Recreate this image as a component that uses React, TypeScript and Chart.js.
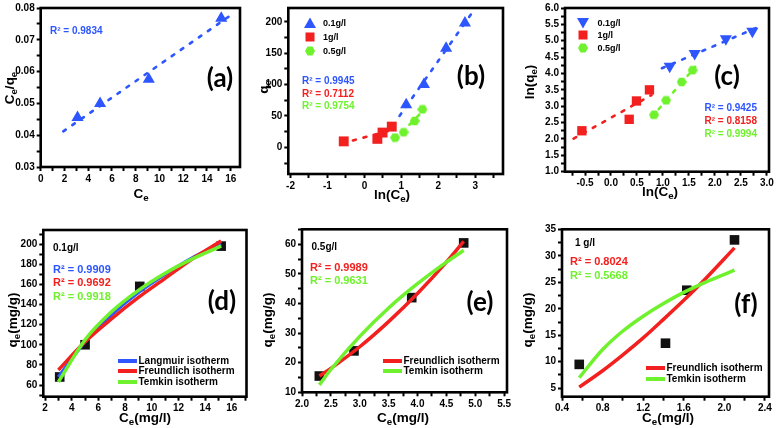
import React, { useEffect, useRef } from 'react';
import { Chart, registerables } from 'chart.js';
Chart.register(...registerables);

const BLUE = '#2d56ff';
const RED = '#f2201e';
const GREEN = '#6ff22d';
const FONT = '"Liberation Sans", Arial, sans-serif';
const BIGFONT = 'Lato, "Liberation Sans", sans-serif';

// ---------- (a) linear Langmuir ----------
const aCe = [3.1, 5.0, 9.1, 15.2];
const aCeQe = [0.0456, 0.05, 0.0576, 0.0768];
const aFitX = [1.9, 16.3];
const aFitY = [0.0412, 0.0785];

// ---------- (b) Temkin (qe vs lnCe) ----------
const bLnCe01 = [1.13, 1.61, 2.21, 2.72];
const bQe01 = [68, 100, 158, 198];
const bLnCe1 = [-0.56, 0.35, 0.49, 0.74];
const bQe1 = [9.5, 13.5, 23.5, 33];
const bLnCe05 = [0.83, 1.06, 1.36, 1.57];
const bQe05 = [15.5, 24, 42, 60.5];
const bFit01X = [0.95, 2.92];
const bFit01Y = [50, 215];
const bFit1X = [-0.6, 0.78];
const bFit1Y = [6.5, 28];
const bFit05X = [0.8, 1.6];
const bFit05Y = [11, 59];

// ---------- (c) Freundlich (lnqe vs lnCe) ----------
const cLnQe01 = [4.22, 4.61, 5.06, 5.29];
const cLnQe1 = [2.25, 2.6, 3.16, 3.5];
const cLnQe05 = [2.74, 3.18, 3.74, 4.1];
const cFit01X = [0.98, 2.88];
const cFit01Y = [4.16, 5.45];
const cFit1X = [-0.72, 0.78];
const cFit1Y = [2.01, 3.34];
const cFit05X = [0.78, 1.62];
const cFit05Y = [2.66, 4.2];

// ---------- (d) 0.1 g/l ----------
const dCe = [3.1, 5.0, 9.1, 15.2];
const dQe = [68, 100, 158, 198];
const dCurveX = [3, 5, 7, 9, 11, 13, 15.2];
const dLangmuir = [68, 103, 130, 152, 170, 186, 200];
const dFreundlich = [75, 103, 126, 147, 166, 185, 203];
const dTemkin = [63, 105, 133, 154, 171, 185, 198];

// ---------- (e) 0.5 g/l ----------
const eCe = [2.3, 2.9, 3.9, 4.8];
const eQe = [15.5, 24, 42, 60.5];
const eCurveX = [2.3, 2.5, 3.0, 3.5, 4.0, 4.5, 4.8];
const eFreundlich = [15.5, 18.1, 25.4, 33.9, 43.4, 54, 61];
const eTemkin = [12.5, 17.7, 28.9, 38.5, 46.7, 54, 58];

// ---------- (f) 1 g/l ----------
const fCe = [0.57, 1.42, 1.63, 2.1];
const fQe = [9.5, 13.5, 23.5, 33];
const fCurveX = [0.57, 0.8, 1.0, 1.2, 1.4, 1.6, 1.8, 2.1];
const fFreundlich = [5.2, 8.3, 11.3, 14.5, 18, 21.6, 25.4, 31.5];
const fTemkin = [7, 12.3, 15.8, 18.6, 21, 23.1, 24.9, 27.3];

const seq = (start: number, step: number, n: number) =>
  Array.from({ length: n }, (_, i) => +(start + i * step).toFixed(6));

// tick lists (major labelled, minor unlabelled)
const aXMajor = seq(0, 2, 9), aXMinor = seq(1, 2, 8);
const aYMajor = seq(0.03, 0.01, 6), aYMinor = seq(0.035, 0.01, 5);
const bXMajor = seq(-2, 1, 6), bXMinor = seq(-1.5, 1, 6);
const bYMajor = seq(0, 50, 5), bYMinor = seq(-25, 50, 5);
const cXMajor = seq(-0.5, 0.5, 8), cXMinor = seq(-0.75, 0.5, 8);
const cYMajor = seq(1, 0.5, 11), cYMinor = seq(1.25, 0.5, 10);
const dXMajor = seq(2, 2, 8), dXMinor = seq(3, 2, 8);
const dYMajor = seq(60, 20, 8), dYMinor = seq(50, 20, 9);
const eXMajor = seq(2, 0.5, 8), eXMinor = seq(2.25, 0.5, 7);
const eYMajor = seq(10, 10, 6), eYMinor = seq(15, 10, 6);
const fXMajor = seq(0.4, 0.4, 6), fXMinor = seq(0.6, 0.4, 5);
const fYMajor = seq(5, 5, 7), fYMinor = seq(7.5, 5, 6);

const pts = (xs: number[], ys: number[]) => xs.map((x, i) => ({ x, y: ys[i] }));

type Axis = { min: number; max: number; major: number[]; minor: number[]; dec: number };
type Cfg = {
  canvas: [number, number, number, number];
  plot: [number, number, number, number];
  x: Axis;
  y: Axis;
  datasets: (hex: HTMLCanvasElement) => any[];
};

function makeHex(size: number, color: string) {
  const c = document.createElement('canvas');
  c.width = size;
  c.height = size;
  const ctx = c.getContext('2d')!;
  const r = size / 2;
  ctx.fillStyle = color;
  ctx.beginPath();
  for (let i = 0; i < 6; i++) {
    const a = (Math.PI / 3) * i;
    const px = r + r * Math.cos(a);
    const py = r + r * Math.sin(a);
    if (i === 0) ctx.moveTo(px, py);
    else ctx.lineTo(px, py);
  }
  ctx.closePath();
  ctx.fill();
  return c;
}

const scatterSet = (data: any[], color: string, style: any, radius: number, rot = 0) => ({
  data,
  showLine: false,
  pointStyle: style,
  pointRadius: radius,
  pointRotation: rot,
  pointBackgroundColor: color,
  pointBorderColor: color,
  pointBorderWidth: 0,
  clip: false,
});
const dotted = (data: any[], color: string) => ({
  data,
  showLine: true,
  pointRadius: 0,
  borderColor: color,
  borderWidth: 2.6,
  borderDash: [3, 8],
  borderCapStyle: 'round',
  fill: false,
});
const curve = (data: any[], color: string) => ({
  data,
  showLine: true,
  pointRadius: 0,
  borderColor: color,
  borderWidth: 3.5,
  cubicInterpolationMode: 'monotone',
  fill: false,
  clip: false,
});

const panels: Cfg[] = [
  {
    canvas: [0, 0, 258, 192],
    plot: [40.7, 6, 240, 167],
    x: { min: 0, max: 16.78, major: aXMajor, minor: aXMinor, dec: 0 },
    y: { min: 0.03, max: 0.08, major: aYMajor, minor: aYMinor, dec: 2 },
    datasets: () => [
      dotted(pts(aFitX, aFitY), BLUE),
      scatterSet(pts(aCe, aCeQe), BLUE, 'triangle', 7),
    ],
  },
  {
    canvas: [258, 0, 252, 192],
    plot: [288.3, 6, 505, 174],
    x: { min: -2.06, max: 3.75, major: bXMajor, minor: bXMinor, dec: 0 },
    y: { min: -42.5, max: 222, major: bYMajor, minor: bYMinor, dec: 0 },
    datasets: (hex) => [
      dotted(pts(bFit01X, bFit01Y), BLUE),
      dotted(pts(bFit1X, bFit1Y), RED),
      dotted(pts(bFit05X, bFit05Y), GREEN),
      scatterSet(pts(bLnCe01, bQe01), BLUE, 'triangle', 7),
      scatterSet(pts(bLnCe1, bQe1), RED, 'rect', 7),
      scatterSet(pts(bLnCe05, bQe05), GREEN, hex, 5),
    ],
  },
  {
    canvas: [512, 0, 264, 192],
    plot: [565, 5, 769, 171.7],
    x: { min: -0.885, max: 3.04, major: cXMajor, minor: cXMinor, dec: 1 },
    y: { min: 1, max: 6, major: cYMajor, minor: cYMinor, dec: 1 },
    datasets: (hex) => [
      dotted(pts(cFit01X, cFit01Y), BLUE),
      dotted(pts(cFit1X, cFit1Y), RED),
      dotted(pts(cFit05X, cFit05Y), GREEN),
      scatterSet(pts(bLnCe01, cLnQe01), BLUE, 'triangle', 7, 180),
      scatterSet(pts(bLnCe1, cLnQe1), RED, 'rect', 6.6),
      scatterSet(pts(bLnCe05, cLnQe05), GREEN, hex, 5),
    ],
  },
  {
    canvas: [0, 214, 258, 200],
    plot: [43.3, 230, 246.5, 396.7],
    x: { min: 1.87, max: 17.1, major: dXMajor, minor: dXMinor, dec: 0 },
    y: { min: 48.4, max: 214, major: dYMajor, minor: dYMinor, dec: 0 },
    datasets: () => [
      curve(pts(dCurveX, dTemkin), GREEN),
      curve(pts(dCurveX, dFreundlich), RED),
      curve(pts(dCurveX, dLangmuir), BLUE),
      scatterSet(pts(dCe, dQe), '#111', 'rect', 6.8),
    ],
  },
  {
    canvas: [258, 214, 258, 200],
    plot: [302, 229.3, 507, 392.3],
    x: { min: 2.0, max: 5.55, major: eXMajor, minor: eXMinor, dec: 1 },
    y: { min: 10, max: 65.1, major: eYMajor, minor: eYMinor, dec: 0 },
    datasets: () => [
      curve(pts(eCurveX, eTemkin), GREEN),
      curve(pts(eCurveX, eFreundlich), RED),
      scatterSet(pts(eCe, eQe), '#111', 'rect', 6.8),
    ],
  },
  {
    canvas: [516, 214, 260, 200],
    plot: [562, 229.3, 769, 396.7],
    x: { min: 0.4, max: 2.44, major: fXMajor, minor: fXMinor, dec: 1 },
    y: { min: 3.4, max: 35, major: fYMajor, minor: fYMinor, dec: 0 },
    datasets: () => [
      curve(pts(fCurveX, fTemkin), GREEN),
      curve(pts(fCurveX, fFreundlich), RED),
      scatterSet(pts(fCe, fQe), '#111', 'rect', 6.8),
    ],
  },
];

const framePlugin = {
  id: 'frame',
  afterDraw(chart: any) {
    const { ctx, chartArea } = chart;
    const { left, top, right, bottom } = chartArea;
    ctx.save();
    ctx.strokeStyle = '#000';
    ctx.lineWidth = 2.6;
    ctx.strokeRect(left, top, right - left, bottom - top);
    ctx.restore();
  },
};

function axisOpts(a: Axis, fit: (s: any) => void) {
  const all = [...a.major, ...a.minor].sort((p, q) => p - q);
  const isMajor = (v: number) => a.major.some((m) => Math.abs(m - v) < 1e-9);
  return {
    type: 'linear',
    min: a.min,
    max: a.max,
    afterBuildTicks: (s: any) => {
      s.ticks = all.filter((v) => v >= a.min && v <= a.max).map((v) => ({ value: v }));
    },
    afterFit: fit,
    ticks: {
      autoSkip: false,
      maxRotation: 0,
      minRotation: 0,
      padding: 2,
      color: '#000',
      font: { size: 10, weight: 'bold', family: FONT },
      callback: (v: number) => (isMajor(v) ? Number(v).toFixed(a.dec) : ''),
    },
    grid: {
      display: true,
      drawOnChartArea: false,
      drawTicks: true,
      tickLength: 4,
      tickWidth: 2,
      tickColor: '#000',
    },
    border: { display: false },
  };
}

function Panel({ cfg }: { cfg: Cfg }) {
  const ref = useRef<HTMLCanvasElement>(null);
  useEffect(() => {
    const [cl, ct, cw, ch] = cfg.canvas;
    const [pl, pt, pr, pb] = cfg.plot;
    const hex = makeHex(10, GREEN);
    const chart = new Chart(ref.current!, {
      type: 'scatter',
      data: { datasets: cfg.datasets(hex) },
      options: {
        animation: false,
        responsive: false,
        maintainAspectRatio: false,
        layout: { padding: { top: pt - ct, right: cl + cw - pr, left: 0, bottom: 0 } },
        plugins: { legend: { display: false }, tooltip: { enabled: false } },
        scales: {
          x: axisOpts(cfg.x, (s: any) => {
            s.height = ct + ch - pb;
          }),
          y: axisOpts(cfg.y, (s: any) => {
            s.width = pl - cl;
          }),
        },
      } as any,
      plugins: [framePlugin],
    });
    return () => chart.destroy();
  }, [cfg]);
  const [cl, ct, cw, ch] = cfg.canvas;
  return (
    <canvas
      ref={ref}
      width={cw}
      height={ch}
      style={{ position: 'absolute', left: cl, top: ct, width: cw, height: ch }}
    />
  );
}

const Sub = ({ children }: { children: any }) => (
  <sub style={{ fontSize: '0.72em', verticalAlign: '-0.3em', lineHeight: 0 }}>{children}</sub>
);

function Txt({
  x, y, children, size = 10, color = '#000', align = 'left', family = FONT, rotate = false,
}: any) {
  const tx = align === 'left' ? '0' : align === 'center' ? '-50%' : '-100%';
  return (
    <div
      style={{
        position: 'absolute',
        left: x,
        top: y,
        transform: rotate ? 'translate(-50%, -50%) rotate(-90deg)' : `translate(${tx}, -50%)`,
        fontSize: size,
        fontWeight: 700,
        color,
        fontFamily: family,
        whiteSpace: 'nowrap',
        lineHeight: 1,
      }}
    >
      {children}
    </div>
  );
}

const Marker = ({ x, y, kind, color }: any) => {
  let shape: any = null;
  if (kind === 'tri') shape = <polygon points="6,0.5 12,11 0,11" fill={color} />;
  if (kind === 'tridown') shape = <polygon points="0,1 12,1 6,11.5" fill={color} />;
  if (kind === 'sq') shape = <rect x="1.5" y="1.5" width="9" height="9" fill={color} />;
  if (kind === 'hex')
    shape = <polygon points="1,6 3.5,1.6 8.5,1.6 11,6 8.5,10.4 3.5,10.4" fill={color} />;
  return (
    <svg width={12} height={12} style={{ position: 'absolute', left: x - 6, top: y - 6 }}>
      {shape}
    </svg>
  );
};

const LegLine = ({ x1, x2, y, color }: any) => (
  <div style={{ position: 'absolute', left: x1, top: y - 2, width: x2 - x1, height: 4, background: color }} />
);

export default function App() {
  return (
    <div
      style={{
        position: 'absolute',
        left: 0,
        top: 0,
        width: 776,
        height: 428,
        background: '#fff',
        overflow: 'hidden',
        fontFamily: FONT,
      }}
    >
      {panels.map((p, i) => (
        <Panel key={i} cfg={p} />
      ))}

      {/* ---- (a) ---- */}
      <Txt x={50} y={31} color={BLUE}>R² = 0.9834</Txt>
      <Txt x={220} y={77} size={26} align="center" family={BIGFONT}>(a)</Txt>
      <Txt x={141} y={194} size={13.5} align="center">C<Sub>e</Sub></Txt>
      <Txt x={10} y={88} size={13.5} rotate>C<Sub>e</Sub>/q<Sub>e</Sub></Txt>

      {/* ---- (b) ---- */}
      <Marker x={310} y={23} kind="tri" color={BLUE} />
      <Marker x={310} y={37} kind="sq" color={RED} />
      <Marker x={310} y={51} kind="hex" color={GREEN} />
      <Txt x={323} y={23} size={9}>0.1g/l</Txt>
      <Txt x={323} y={37} size={9}>1g/l</Txt>
      <Txt x={323} y={51} size={9}>0.5g/l</Txt>
      <Txt x={302} y={81} color={BLUE}>R² = 0.9945</Txt>
      <Txt x={302} y={93.5} color={RED}>R² = 0.7112</Txt>
      <Txt x={302} y={106} color={GREEN}>R² = 0.9754</Txt>
      <Txt x={471} y={75} size={26} align="center" family={BIGFONT}>(b)</Txt>
      <Txt x={392} y={195} size={13.5} align="center">ln(C<Sub>e</Sub>)</Txt>
      <Txt x={264} y={87} size={13.5} rotate>q<Sub>e</Sub></Txt>

      {/* ---- (c) ---- */}
      <Marker x={583} y={23} kind="tridown" color={BLUE} />
      <Marker x={583} y={35} kind="sq" color={RED} />
      <Marker x={583} y={47.5} kind="hex" color={GREEN} />
      <Txt x={597.5} y={23} size={9}>0.1g/l</Txt>
      <Txt x={597.5} y={35} size={9}>1g/l</Txt>
      <Txt x={597.5} y={47.5} size={9}>0.5g/l</Txt>
      <Txt x={757} y={107.5} color={BLUE} align="right">R² = 0.9425</Txt>
      <Txt x={757} y={120.5} color={RED} align="right">R² = 0.8158</Txt>
      <Txt x={757} y={133.5} color={GREEN} align="right">R² = 0.9994</Txt>
      <Txt x={727} y={75} size={26} align="center" family={BIGFONT}>(c)</Txt>
      <Txt x={660} y={192} size={13.5} align="center">ln(C<Sub>e</Sub>)</Txt>
      <Txt x={530} y={82} size={13.5} rotate>ln(q<Sub>e</Sub>)</Txt>

      {/* ---- (d) ---- */}
      <Txt x={53} y={247.5}>0.1g/l</Txt>
      <Txt x={53} y={268.5} size={11} color={BLUE}>R² = 0.9909</Txt>
      <Txt x={53} y={282} size={11} color={RED}>R² = 0.9692</Txt>
      <Txt x={53} y={296} size={11} color={GREEN}>R² = 0.9918</Txt>
      <Txt x={222} y={300} size={26} align="center" family={BIGFONT}>(d)</Txt>
      <LegLine x1={118} x2={137} y={360.7} color={BLUE} />
      <LegLine x1={118} x2={137} y={371} color={RED} />
      <LegLine x1={118} x2={137} y={381.7} color={GREEN} />
      <Txt x={138.5} y={360.7}>Langmuir isotherm</Txt>
      <Txt x={138.5} y={371}>Freundlich isotherm</Txt>
      <Txt x={138.5} y={381.7}>Temkin isotherm</Txt>
      <Txt x={145} y={418} size={13.5} align="center">C<Sub>e</Sub>(mg/l)</Txt>
      <Txt x={12.5} y={320} size={13.5} rotate>q<Sub>e</Sub>(mg/g)</Txt>

      {/* ---- (e) ---- */}
      <Txt x={311.5} y={246.7}>0.5g/l</Txt>
      <Txt x={310} y={266.7} size={11} color={RED}>R² = 0.9989</Txt>
      <Txt x={310} y={280} size={11} color={GREEN}>R² = 0.9631</Txt>
      <Txt x={480} y={301} size={26} align="center" family={BIGFONT}>(e)</Txt>
      <LegLine x1={383} x2={402} y={360.7} color={RED} />
      <LegLine x1={383} x2={402} y={370.7} color={GREEN} />
      <Txt x={403.5} y={360.7}>Freundlich isotherm</Txt>
      <Txt x={403.5} y={370.7}>Temkin isotherm</Txt>
      <Txt x={403} y={418} size={13.5} align="center">C<Sub>e</Sub>(mg/l)</Txt>
      <Txt x={268} y={320} size={13.5} rotate>q<Sub>e</Sub>(mg/g)</Txt>

      {/* ---- (f) ---- */}
      <Txt x={575} y={243.3}>1 g/l</Txt>
      <Txt x={570} y={261} size={11} color={RED}>R² = 0.8024</Txt>
      <Txt x={570} y={275} size={11} color={GREEN}>R² = 0.5668</Txt>
      <Txt x={746} y={303} size={26} align="center" family={BIGFONT}>(f)</Txt>
      <LegLine x1={646} x2={665} y={368.3} color={RED} />
      <LegLine x1={646} x2={665} y={379} color={GREEN} />
      <Txt x={666.5} y={368.3}>Freundlich isotherm</Txt>
      <Txt x={666.5} y={379}>Temkin isotherm</Txt>
      <Txt x={668} y={418} size={13.5} align="center">C<Sub>e</Sub>(mg/l)</Txt>
      <Txt x={528} y={320} size={13.5} rotate>q<Sub>e</Sub>(mg/g)</Txt>
    </div>
  );
}
